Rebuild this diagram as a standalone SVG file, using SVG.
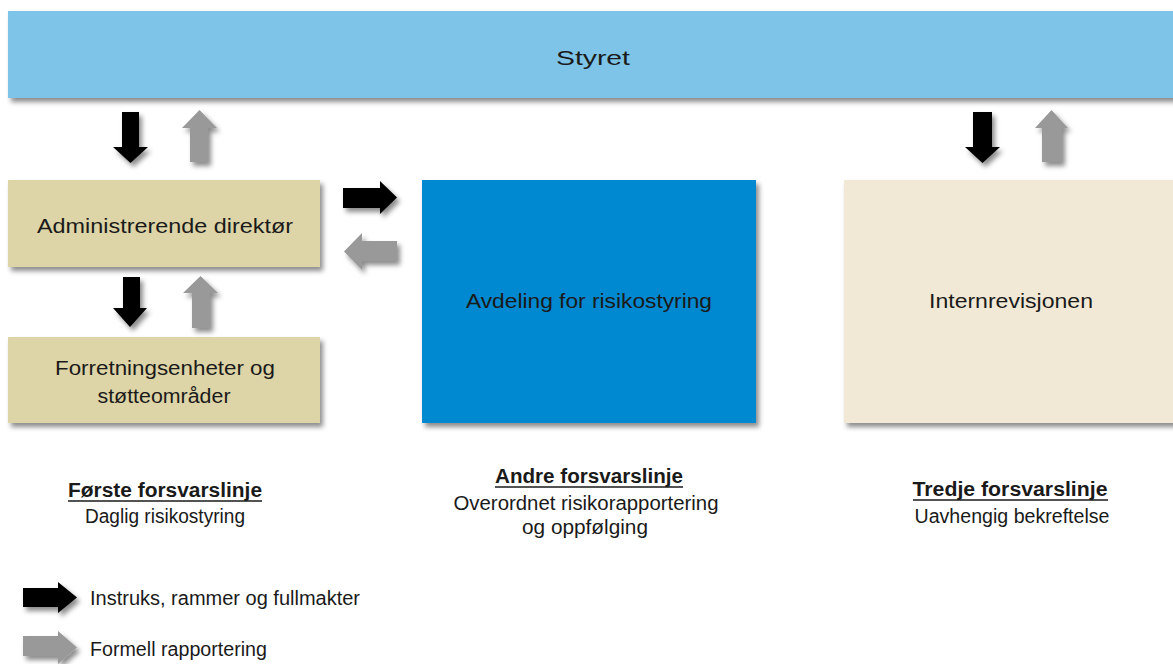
<svg xmlns="http://www.w3.org/2000/svg" width="1173" height="664" viewBox="0 0 1173 664">
<defs>
<filter id="sh" x="-10%" y="-10%" width="130%" height="140%">
<feDropShadow dx="3" dy="4" stdDeviation="2.5" flood-color="#000" flood-opacity="0.45"/>
</filter>
<style>
text{font-family:"Liberation Sans",Arial,sans-serif;fill:#1a1a1a;font-size:19.5px}
.c{text-anchor:middle}
.b{font-weight:bold}
.blk{fill:#000;filter:url(#sh)}
.gry{fill:#999;filter:url(#sh)}
.ul{stroke:#1a1a1a;stroke-width:1.6}
</style>
</defs>
<rect width="1173" height="664" fill="#fff"/>

<g id="styret">
<rect x="8" y="11" width="1170" height="87" fill="#7ec4e8" filter="url(#sh)"/>
<text x="593" y="65" class="c" font-size="27" textLength="74" lengthAdjust="spacingAndGlyphs">Styret</text>
</g>

<g id="admin">
<rect x="8" y="180" width="312" height="87" fill="#ddd4a7" filter="url(#sh)"/>
<text x="165" y="233" class="c" textLength="256" lengthAdjust="spacingAndGlyphs">Administrerende direktør</text>
</g>

<g id="forretning">
<rect x="8" y="337" width="312" height="86" fill="#ddd4a7" filter="url(#sh)"/>
<text x="165" y="375" class="c" textLength="220" lengthAdjust="spacingAndGlyphs">Forretningsenheter og</text>
<text x="164" y="403" class="c" textLength="133" lengthAdjust="spacingAndGlyphs">støtteområder</text>
</g>

<g id="risiko">
<rect x="422" y="180" width="334" height="243" fill="#0088d0" filter="url(#sh)"/>
<text x="589" y="308" class="c" textLength="246" lengthAdjust="spacingAndGlyphs">Avdeling for risikostyring</text>
</g>

<g id="internrevisjon">
<rect x="844" y="180" width="334" height="243" fill="#f1e9d6" filter="url(#sh)"/>
<text x="1011" y="308" class="c" textLength="164" lengthAdjust="spacingAndGlyphs">Internrevisjonen</text>
</g>

<g id="connectors">
<polygon class="blk" points="122,112 139,112 139,147 148,147 130.5,163 113,147 122,147"/>
<polygon class="gry" points="190,162 208,162 208,128 217,128 199.5,110 182,128 190,128"/>
<polygon class="blk" points="123,277 140,277 140,308 147,308 130,327 113,308 123,308"/>
<polygon class="gry" points="192,328 210,328 210,293 218,293 200.5,276 183,293 192,293"/>
<polygon class="blk" points="343,188 380,188 380,181 397,197.5 380,214 380,208 343,208"/>
<polygon class="gry" points="397,241 362,241 362,233 344,251.5 362,270 362,261 397,261"/>
<polygon class="blk" points="973,112 992,112 992,147 1000,147 982.5,163 965,147 973,147"/>
<polygon class="gry" points="1042,162 1062,162 1062,128 1068,128 1051.5,110 1035,128 1042,128"/>
</g>

<g id="forste">
<text x="165" y="497" class="c b" textLength="194" lengthAdjust="spacingAndGlyphs">Første forsvarslinje</text>
<line class="ul" x1="68" y1="501" x2="262" y2="501"/>
<text x="165" y="523" class="c" textLength="160" lengthAdjust="spacingAndGlyphs">Daglig risikostyring</text>
</g>

<g id="andre">
<text x="589" y="483" class="c b" textLength="188" lengthAdjust="spacingAndGlyphs">Andre forsvarslinje</text>
<line class="ul" x1="495" y1="487" x2="683" y2="487"/>
<text x="586" y="510" class="c" textLength="265" lengthAdjust="spacingAndGlyphs">Overordnet risikorapportering</text>
<text x="585" y="534" class="c" textLength="126" lengthAdjust="spacingAndGlyphs">og oppfølging</text>
</g>

<g id="tredje">
<text x="1010" y="496" class="c b" textLength="195" lengthAdjust="spacingAndGlyphs">Tredje forsvarslinje</text>
<line class="ul" x1="913" y1="500" x2="1108" y2="500"/>
<text x="1012" y="523" class="c" textLength="195" lengthAdjust="spacingAndGlyphs">Uavhengig bekreftelse</text>
</g>

<g id="legend">
<polygon class="blk" points="23,588 58,588 58,582 77,597.5 58,613 58,607 23,607"/>
<text x="90" y="605" textLength="270" lengthAdjust="spacingAndGlyphs">Instruks, rammer og fullmakter</text>
<polygon class="gry" points="23,636 58,636 58,631 77,647.5 58,664 58,656 23,656"/>
<text x="90" y="656" textLength="177" lengthAdjust="spacingAndGlyphs">Formell rapportering</text>
</g>
</svg>
